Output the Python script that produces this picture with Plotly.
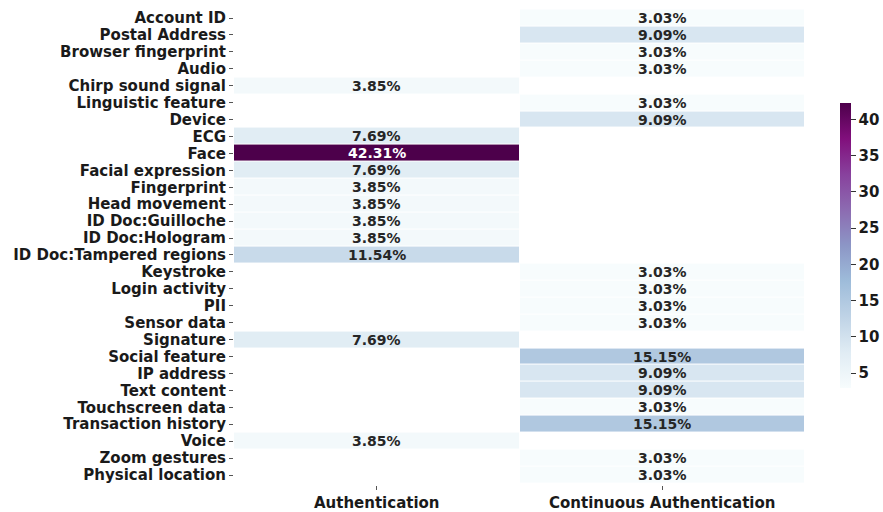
import plotly.graph_objects as go

categories = ["Account ID", "Postal Address", "Browser fingerprint", "Audio", "Chirp sound signal",
              "Linguistic feature", "Device", "ECG", "Face", "Facial expression", "Fingerprint",
              "Head movement", "ID Doc:Guilloche", "ID Doc:Hologram", "ID Doc:Tampered regions",
              "Keystroke", "Login activity", "PII", "Sensor data", "Signature", "Social feature",
              "IP address", "Text content", "Touchscreen data", "Transaction history", "Voice",
              "Zoom gestures", "Physical location"]
columns = ["Authentication", "Continuous Authentication"]
authentication = [None, None, None, None, 3.85, None, None, 7.69, 42.31, 7.69, 3.85, 3.85, 3.85, 3.85,
                  11.54, None, None, None, None, 7.69, None, None, None, None, None, 3.85, None, None]
continuous = [3.03, 9.09, 3.03, 3.03, None, 3.03, 9.09, None, None, None, None, None, None, None,
              None, 3.03, 3.03, 3.03, 3.03, None, 15.15, 9.09, 9.09, 3.03, 15.15, None, 3.03, 3.03]
colorbar_ticks = [5, 10, 15, 20, 25, 30, 35, 40]

bupu = [[0.0, "#f7fcfd"], [0.125, "#e0ecf4"], [0.25, "#bfd3e6"], [0.375, "#9ebcda"],
        [0.5, "#8c96c6"], [0.625, "#8c6bb1"], [0.75, "#88419d"], [0.875, "#810f7c"], [1.0, "#4d004b"]]

z = [[a, c] for a, c in zip(authentication, continuous)]
vals = [v for v in authentication + continuous if v is not None]
zmin, zmax = min(vals), max(vals)

W, H = 883, 512
L, R, T, B = 234, 0, 8, 27
pw = W - L - R
plot_right = 805
cb_left = 840

fig = go.Figure(go.Heatmap(
    z=z, x=columns, y=categories, colorscale=bupu, zmin=zmin, zmax=zmax,
    xgap=1, ygap=1, hoverongaps=False,
    colorbar=dict(x=(cb_left - L) / pw, xanchor="left", xpad=0, ypad=0,
                  y=(H - B - 245) / (H - T - B), yanchor="middle",
                  thickness=11, thicknessmode="pixels", len=285, lenmode="pixels",
                  outlinewidth=0, tickmode="array", tickvals=colorbar_ticks,
                  ticktext=[f"<b>{t}</b>" for t in colorbar_ticks],
                  ticks="outside", ticklen=5, tickcolor="#333",
                  tickfont=dict(family="DejaVu Sans", size=15, color="#1a1a1a"))
))

annotations = []
for i, cat in enumerate(categories):
    for j, col in enumerate(columns):
        v = z[i][j]
        if v is None:
            continue
        annotations.append(dict(
            x=col, y=cat, text=f"<b>{v:.2f}%</b>", showarrow=False,
            font=dict(family="DejaVu Sans", size=14,
                      color="white" if (v - zmin) / (zmax - zmin) > 0.6 else "#262626")))

fig.update_layout(
    width=W, height=H,
    margin=dict(l=L, r=R, t=T, b=B),
    plot_bgcolor="white", paper_bgcolor="white",
    annotations=annotations,
    font=dict(family="DejaVu Sans", size=15, color="#1a1a1a"),
)
fig.update_yaxes(autorange="reversed", ticks="outside", ticklen=4, tickcolor="#555",
                 tickfont=dict(family="DejaVu Sans", size=15, color="#1a1a1a"),
                 showgrid=False, zeroline=False, automargin=False,
                 tickmode="array", tickvals=categories, ticktext=[f"<b>{c}</b>" for c in categories])
fig.update_xaxes(domain=[0, (plot_right - L) / pw],
                 ticks="outside", ticklen=4, tickcolor="#555", showgrid=False, zeroline=False,
                 automargin=False, tickmode="array", tickvals=columns,
                 ticktext=[f"<b>{c}</b>" for c in columns],
                 tickfont=dict(family="DejaVu Sans", size=15, color="#1a1a1a"))

fig.write_html("out.html", config={"displayModeBar": False},
               post_script="document.body.style.margin='0px';")
